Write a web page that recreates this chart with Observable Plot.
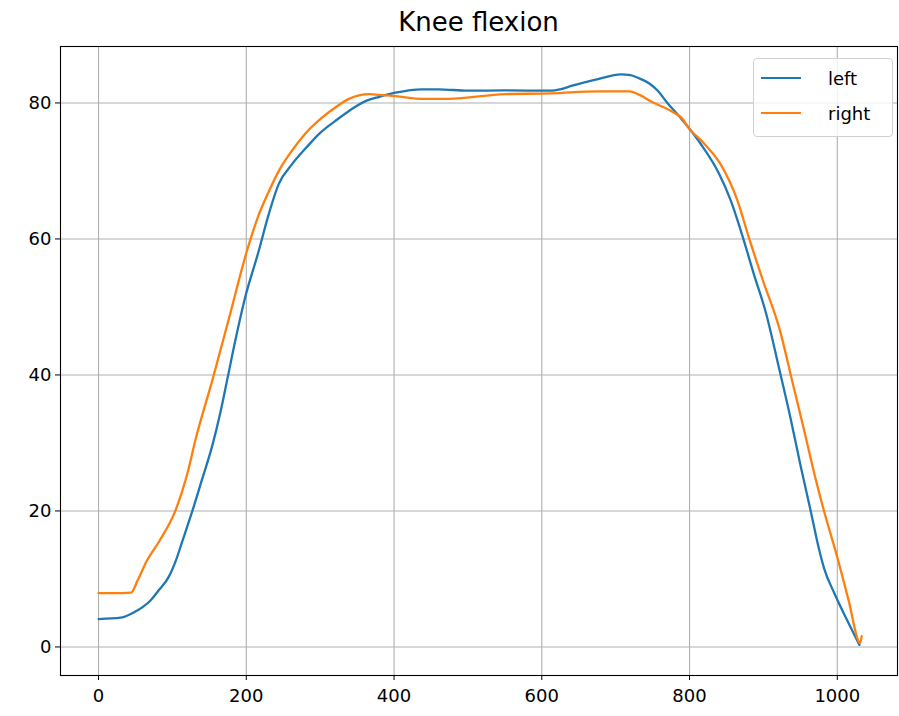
<!DOCTYPE html>
<html>
<head>
<meta charset="utf-8">
<script src="https://cdn.jsdelivr.net/npm/d3@7"></script>
<script src="https://cdn.jsdelivr.net/npm/@observablehq/plot@0.6"></script>
<style>
  html, body { margin: 0; padding: 0; background: #fff; }
  #wrap { position: relative; width: 899px; height: 716px; font-family: "DejaVu Sans", sans-serif; }
  #title { height: 36px; line-height: 44px; padding-left: 60px; padding-right: 2px; text-align: center; font-size: 26px; color: #000; }
  #legend { position: absolute; left: 753px; top: 58px; width: 138px; height: 77px; border: 1px solid #d0d0d0; border-radius: 4px; background: rgba(255,255,255,0.8); font-size: 18px; color: #000; }
  .item { position: absolute; left: 0; height: 20px; display: flex; align-items: center; }
  .sw { width: 40px; height: 2.2px; margin-left: 7px; margin-right: 27px; }
</style>
</head>
<body>
<div id="wrap">
  <div id="title">Knee flexion</div>
  <div id="chart"></div>
  <div id="legend"></div>
</div>
<script>
const leftX = [0, 30, 50, 60, 70, 82, 95, 105, 113, 127, 140, 154, 165, 174, 186, 198, 217, 230, 244, 262, 281, 300, 321, 340, 362, 380, 402, 437, 460, 500, 550, 613, 625, 640, 676, 707, 720, 730, 745, 757, 770, 788, 797, 815, 840, 856, 870, 888, 903, 922, 937, 950, 964, 975, 982, 996, 1013, 1030];
const leftY = [4.1, 4.3, 5.2, 5.9, 6.8, 8.4, 10.3, 12.8, 15.4, 20.0, 24.6, 29.6, 34.5, 39.2, 45.5, 51.2, 58.3, 63.5, 68.1, 71.0, 73.4, 75.6, 77.4, 78.9, 80.3, 80.9, 81.5, 82.0, 82.0, 81.8, 81.85, 81.8, 82.0, 82.5, 83.5, 84.2, 84.1, 83.7, 82.9, 81.8, 80.0, 77.8, 76.6, 74.0, 69.6, 65.6, 61.0, 54.5, 49.3, 40.6, 33.5, 26.8, 20.0, 14.5, 11.6, 7.9, 4.0, 0.3];

const rightX = [0, 20, 44, 53, 65, 82, 105, 119, 132, 154, 177, 201, 215, 231, 245, 262, 280, 302, 320, 339, 366, 380, 402, 440, 474, 550, 613, 676, 719, 730, 750, 775, 791, 797, 820, 842, 865, 880, 899, 923, 937, 955, 970, 982, 1000, 1015, 1031, 1033];
const rightY = [7.9, 7.9, 8.0, 9.8, 12.6, 15.5, 20.3, 25.0, 30.8, 39.2, 48.5, 58.3, 63.0, 67.1, 70.2, 73.0, 75.5, 77.8, 79.3, 80.6, 81.3, 81.2, 81.0, 80.6, 80.6, 81.3, 81.4, 81.7, 81.7, 81.3, 80.1, 78.8, 77.6, 76.6, 74.0, 71.0, 65.6, 60.3, 54.0, 46.3, 40.0, 31.9, 25.0, 20.0, 13.2, 7.0, 0.6, 1.6];

const xTicks = [0, 200, 400, 600, 800, 1000];
const yTicks = [0, 20, 40, 60, 80];

const seriesNames = ["left", "right"];
const seriesColors = ["#1f77b4", "#ff7f0e"];

const rows = [
  ...leftX.map((x, i) => ({x, y: leftY[i], s: "left"})),
  ...rightX.map((x, i) => ({x, y: rightY[i], s: "right"}))
];

const chart = Plot.plot({
  width: 899,
  height: 680,
  marginLeft: 60,
  marginRight: 2,
  marginTop: 10,
  marginBottom: 41,
  style: {fontFamily: "DejaVu Sans, sans-serif", background: "#fff", color: "#000"},
  x: {domain: [-51.5, 1081.5], label: null},
  y: {domain: [-4.2, 88.3], label: null},
  color: {domain: seriesNames, range: seriesColors},
  marks: [
    Plot.gridX(xTicks, {stroke: "#b0b0b0", strokeOpacity: 1, strokeWidth: 1.1}),
    Plot.gridY(yTicks, {stroke: "#b0b0b0", strokeOpacity: 1, strokeWidth: 1.1}),
    Plot.line(rows, {x: "x", y: "y", z: "s", stroke: "s", strokeWidth: 2.3, curve: "monotone-x"}),
    Plot.frame({stroke: "#000", strokeWidth: 1.1}),
    Plot.axisX(xTicks, {tickSize: 5, tickPadding: 9, fontSize: 18, stroke: "#000", label: null, tickFormat: d3.format("d")}),
    Plot.axisY(yTicks, {tickSize: 5, tickPadding: 4, fontSize: 18, stroke: "#000", label: null, tickFormat: d3.format("d")})
  ]
});
document.getElementById("chart").appendChild(chart);

const legend = document.getElementById("legend");
seriesNames.forEach((name, i) => {
  const item = document.createElement("div");
  item.className = "item";
  item.style.top = (i === 0 ? 9 : 44) + "px";
  const sw = document.createElement("div");
  sw.className = "sw";
  sw.style.background = seriesColors[i];
  const t = document.createElement("span");
  t.textContent = name;
  item.appendChild(sw);
  item.appendChild(t);
  legend.appendChild(item);
});
</script>
</body>
</html>
